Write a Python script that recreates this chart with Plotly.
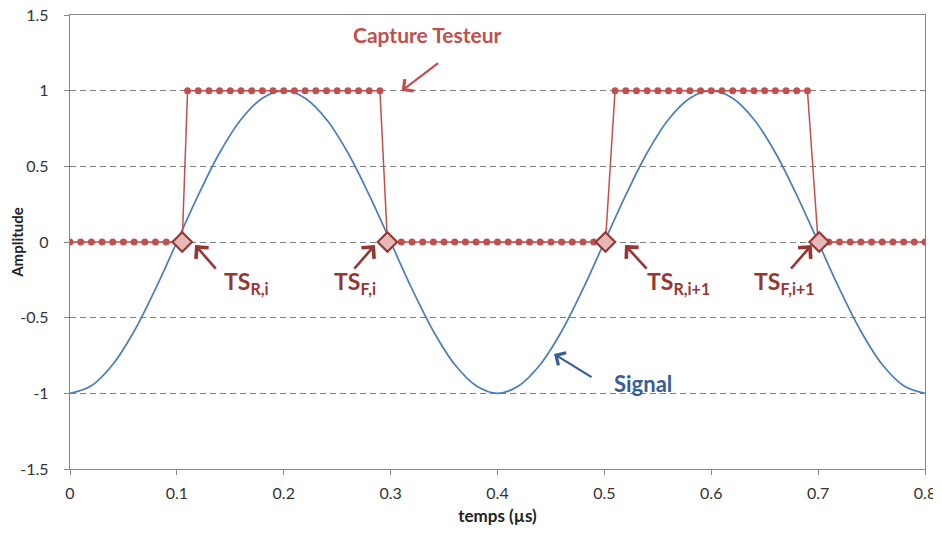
import plotly.graph_objects as go

# ---- Data ----
signal_t = [0.00, 0.02, 0.04, 0.06, 0.08, 0.10, 0.12, 0.14, 0.16, 0.18, 0.20,
            0.22, 0.24, 0.26, 0.28, 0.30, 0.32, 0.34, 0.36, 0.38, 0.40,
            0.42, 0.44, 0.46, 0.48, 0.50, 0.52, 0.54, 0.56, 0.58, 0.60,
            0.62, 0.64, 0.66, 0.68, 0.70, 0.72, 0.74, 0.76, 0.78, 0.80]
signal_v = [-1.0, -0.95, -0.81, -0.59, -0.31, 0.0, 0.31, 0.59, 0.81, 0.95, 1.0,
            0.95, 0.81, 0.59, 0.31, 0.0, -0.31, -0.59, -0.81, -0.95, -1.0,
            -0.95, -0.81, -0.59, -0.31, 0.0, 0.31, 0.59, 0.81, 0.95, 1.0,
            0.95, 0.81, 0.59, 0.31, 0.0, -0.31, -0.59, -0.81, -0.95, -1.0]

capture_t = [0.00, 0.01, 0.02, 0.03, 0.04, 0.05, 0.06, 0.07, 0.08, 0.09,
             0.10, 0.11, 0.12, 0.13, 0.14, 0.15, 0.16, 0.17, 0.18, 0.19,
             0.20, 0.21, 0.22, 0.23, 0.24, 0.25, 0.26, 0.27, 0.28, 0.29,
             0.30, 0.31, 0.32, 0.33, 0.34, 0.35, 0.36, 0.37, 0.38, 0.39,
             0.40, 0.41, 0.42, 0.43, 0.44, 0.45, 0.46, 0.47, 0.48, 0.49,
             0.50, 0.51, 0.52, 0.53, 0.54, 0.55, 0.56, 0.57, 0.58, 0.59,
             0.60, 0.61, 0.62, 0.63, 0.64, 0.65, 0.66, 0.67, 0.68, 0.69,
             0.70, 0.71, 0.72, 0.73, 0.74, 0.75, 0.76, 0.77, 0.78, 0.79,
             0.80]
capture_v = [0, 0, 0, 0, 0, 0, 0, 0, 0, 0,
             0, 1, 1, 1, 1, 1, 1, 1, 1, 1,
             1, 1, 1, 1, 1, 1, 1, 1, 1, 1,
             0, 0, 0, 0, 0, 0, 0, 0, 0, 0,
             0, 0, 0, 0, 0, 0, 0, 0, 0, 0,
             0, 1, 1, 1, 1, 1, 1, 1, 1, 1,
             1, 1, 1, 1, 1, 1, 1, 1, 1, 1,
             0, 0, 0, 0, 0, 0, 0, 0, 0, 0,
             0]

ts_t = [0.105, 0.297, 0.501, 0.701]
ts_v = [0, 0, 0, 0]
ts_labels = ["TS<sub>R,i</sub>", "TS<sub>F,i</sub>", "TS<sub>R,i+1</sub>", "TS<sub>F,i+1</sub>"]

x_ticks = [0, 0.1, 0.2, 0.3, 0.4, 0.5, 0.6, 0.7, 0.8]
x_ticktext = ["0", "0.1", "0.2", "0.3", "0.4", "0.5", "0.6", "0.7", "0.8"]
y_ticks = [-1.5, -1, -0.5, 0, 0.5, 1, 1.5]
y_ticktext = ["-1.5", "-1", "-0.5", "0", "0.5", "1", "1.5"]

# merged capture path (samples + transition points)
line_pts = sorted(list(zip(capture_t, capture_v)) + list(zip(ts_t, ts_v)))
line_t = [p[0] for p in line_pts]
line_v = [p[1] for p in line_pts]

RED = "#c0504d"
DARKRED = "#953735"
BLUE = "#4a7ebb"
FONT = "Lato"

fig = go.Figure()
fig.add_trace(go.Scatter(x=signal_t, y=signal_v, mode="lines",
                         line=dict(color=BLUE, width=1.7, shape="spline"),
                         hoverinfo="skip"))
fig.add_trace(go.Scatter(x=line_t, y=line_v, mode="lines",
                         line=dict(color=RED, width=1.5), hoverinfo="skip"))
fig.add_trace(go.Scatter(x=capture_t, y=capture_v, mode="markers",
                         marker=dict(color=RED, size=7), hoverinfo="skip"))
fig.add_trace(go.Scatter(x=ts_t, y=ts_v, mode="markers",
                         marker=dict(symbol="diamond", size=15, color="#e6b9b8",
                                     line=dict(color=DARKRED, width=2.2)),
                         hoverinfo="skip"))

annotations = []
# Capture Testeur label + arrow
annotations.append(dict(x=0.3336, y=1.374, text="<b>Capture Testeur</b>", showarrow=False,
                        font=dict(family=FONT, size=21, color=RED)))
annotations.append(dict(x=0.3103, y=0.998, text="", showarrow=True, ax=38, ay=-29,
                        arrowhead=4, arrowsize=1.3, arrowwidth=2.2, arrowcolor=RED))
# Signal label + arrow
annotations.append(dict(x=0.5364, y=-0.934, text="<b>Signal</b>", showarrow=False,
                        font=dict(family=FONT, size=22, color="#376092")))
annotations.append(dict(x=0.4529, y=-0.74, text="", showarrow=True, ax=39, ay=24,
                        arrowhead=4, arrowsize=1.3, arrowwidth=2.2, arrowcolor="#376092"))
# TS labels and arrows
ts_label_x = [0.165, 0.2667, 0.5698, 0.669]
ts_head_x = [0.117, 0.2854, 0.5193, 0.694]
ts_ax = [22, -22, 23, -22]
for lx, hx, a, txt in zip(ts_label_x, ts_head_x, ts_ax, ts_labels):
    annotations.append(dict(x=lx, y=-0.27, text="<b>" + txt + "</b>", showarrow=False,
                            font=dict(family=FONT, size=23, color=DARKRED)))
    annotations.append(dict(x=hx, y=-0.02, text="", showarrow=True, ax=a, ay=25,
                            arrowhead=4, arrowsize=1.25, arrowwidth=2.6, arrowcolor=DARKRED))

# The page body adds an 8px offset; size the figure to fit the 941x533 window.
fig.update_layout(
    width=933, height=525,
    margin=dict(l=62, r=16, t=7, b=64),
    paper_bgcolor="white", plot_bgcolor="white",
    showlegend=False,
    font=dict(family=FONT, color="#404040"),
    annotations=annotations,
)
fig.update_xaxes(range=[0, 0.8], tickvals=x_ticks, ticktext=x_ticktext,
                 ticks="outside", ticklen=5, tickcolor="#868686",
                 showline=True, linecolor="#868686", linewidth=1.3, mirror=True,
                 showgrid=False, zeroline=False, automargin=False,
                 ticklabeloverflow="allow",
                 tickfont=dict(family=FONT, size=16, color="#333333"),
                 ticklabelstandoff=5,
                 title=dict(text="<b>temps (µs)</b>", font=dict(family=FONT, size=17, color="#222222"),
                            standoff=8))
fig.update_yaxes(range=[-1.5, 1.5], tickvals=y_ticks, ticktext=y_ticktext,
                 ticks="outside", ticklen=5, tickcolor="#868686",
                 showline=True, linecolor="#868686", linewidth=1.3, mirror=True,
                 showgrid=True, gridcolor="#7f7f7f", gridwidth=1, griddash="6px,4px",
                 zeroline=False, automargin=False,
                 ticklabeloverflow="allow",
                 tickfont=dict(family=FONT, size=16, color="#333333"),
                 ticklabelstandoff=12,
                 title=dict(text="<b>Amplitude</b>", font=dict(family=FONT, size=15, color="#222222"),
                            standoff=4))

fig.write_html("out.html")
